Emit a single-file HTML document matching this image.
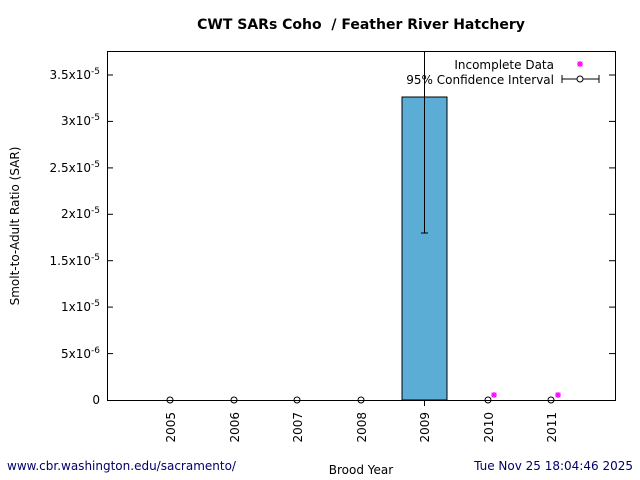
<!DOCTYPE html>
<html><head><style>body{margin:0;background:#fff}svg{display:block}</style></head><body>
<svg width="640" height="480" xmlns="http://www.w3.org/2000/svg" font-family="DejaVu Sans, Liberation Sans, sans-serif">
<rect width="640" height="480" fill="#fff"/>
<text x="361" y="29" font-size="14" font-weight="bold" text-anchor="middle">CWT SARs Coho &#160;/ Feather River Hatchery</text>
<rect x="402" y="97" width="45" height="303" fill="#5badd6" stroke="#000" stroke-width="1"/>
<rect x="107.5" y="51.5" width="508" height="349" fill="none" stroke="#000"/>
<g stroke="#000">
<line x1="107" y1="353.6" x2="113" y2="353.6"/><line x1="615" y1="353.6" x2="609" y2="353.6"/>
<line x1="107" y1="307.1" x2="113" y2="307.1"/><line x1="615" y1="307.1" x2="609" y2="307.1"/>
<line x1="107" y1="260.7" x2="113" y2="260.7"/><line x1="615" y1="260.7" x2="609" y2="260.7"/>
<line x1="107" y1="214.3" x2="113" y2="214.3"/><line x1="615" y1="214.3" x2="609" y2="214.3"/>
<line x1="107" y1="167.9" x2="113" y2="167.9"/><line x1="615" y1="167.9" x2="609" y2="167.9"/>
<line x1="107" y1="121.4" x2="113" y2="121.4"/><line x1="615" y1="121.4" x2="609" y2="121.4"/>
<line x1="107" y1="75" x2="113" y2="75"/><line x1="615" y1="75" x2="609" y2="75"/>
<line x1="424.5" y1="400" x2="424.5" y2="406"/>
<line x1="424.5" y1="51" x2="424.5" y2="233"/><line x1="421" y1="233" x2="428" y2="233"/>
</g>
<g font-size="12" text-anchor="end">
<text x="100" y="404">0</text>
<text x="100" y="358">5x10<tspan dy="-5" font-size="9">-6</tspan></text>
<text x="100" y="311">1x10<tspan dy="-5" font-size="9">-5</tspan></text>
<text x="100" y="265">1.5x10<tspan dy="-5" font-size="9">-5</tspan></text>
<text x="100" y="218">2x10<tspan dy="-5" font-size="9">-5</tspan></text>
<text x="100" y="172">2.5x10<tspan dy="-5" font-size="9">-5</tspan></text>
<text x="100" y="125">3x10<tspan dy="-5" font-size="9">-5</tspan></text>
<text x="100" y="79">3.5x10<tspan dy="-5" font-size="9">-5</tspan></text>
</g>
<text transform="translate(19,226) rotate(-90)" font-size="12" text-anchor="middle">Smolt-to-Adult Ratio (SAR)</text>
<g font-size="12" text-anchor="end">
<text transform="translate(175,412) rotate(-90)">2005</text>
<text transform="translate(239,412) rotate(-90)">2006</text>
<text transform="translate(302,412) rotate(-90)">2007</text>
<text transform="translate(366,412) rotate(-90)">2008</text>
<text transform="translate(429,412) rotate(-90)">2009</text>
<text transform="translate(493,412) rotate(-90)">2010</text>
<text transform="translate(556,412) rotate(-90)">2011</text>
</g>
<g stroke="#000" fill="none">
<circle cx="170" cy="400" r="3"/><circle cx="234" cy="400" r="3"/><circle cx="297" cy="400" r="3"/><circle cx="361" cy="400" r="3"/><circle cx="488" cy="400" r="3"/><circle cx="551" cy="400" r="3"/>
<line x1="562" y1="79" x2="599" y2="79"/><line x1="562" y1="75" x2="562" y2="83"/><line x1="599" y1="75" x2="599" y2="83"/>
<circle cx="580" cy="79" r="3" fill="#fff"/>
</g>
<defs><g id="st" stroke="#ff00ff" stroke-width="1.2"><line x1="-3" y1="0" x2="3" y2="0"/><line x1="0" y1="-3" x2="0" y2="3"/><line x1="-2.3" y1="-2.3" x2="2.3" y2="2.3"/><line x1="-2.3" y1="2.3" x2="2.3" y2="-2.3"/></g></defs>
<use href="#st" x="494" y="395"/><use href="#st" x="558" y="395"/><use href="#st" x="580" y="64"/>
<text x="554" y="69" font-size="12" text-anchor="end">Incomplete Data</text>
<text x="554" y="84" font-size="12" text-anchor="end">95% Confidence Interval</text>
<text x="361" y="474" font-size="12" text-anchor="middle">Brood Year</text>
<text x="7" y="470" font-size="12" fill="#000066">www.cbr.washington.edu/sacramento/</text>
<text x="633" y="470" font-size="12" fill="#000066" text-anchor="end">Tue Nov 25 18:04:46 2025</text>
</svg>
</body></html>
